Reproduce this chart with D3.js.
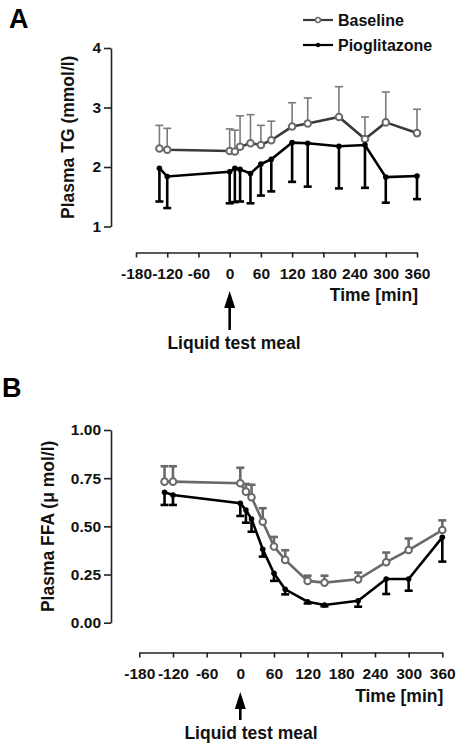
<!DOCTYPE html>
<html><head><meta charset="utf-8">
<script src="https://cdn.jsdelivr.net/npm/d3@7"></script>
<style>body{margin:0;background:#fff}svg{display:block}text{font-family:"Liberation Sans",Arial,sans-serif;font-weight:bold}</style>
</head><body>
<svg id="c" width="456" height="748"></svg>
<script>
const times = [-135, -120, 0, 10, 20, 40, 60, 80, 120, 150, 210, 260, 300, 360];
const xTicks = [-180, -120, -60, 0, 60, 120, 180, 240, 300, 360];
const seriesNames = ["Baseline", "Pioglitazone"];
// Panel A: plasma TG (mmol/l)
const tgBaseline = [2.31, 2.29, 2.27, 2.26, 2.34, 2.40, 2.37, 2.45, 2.68, 2.73, 2.84, 2.47, 2.75, 2.57];
const tgBaselineErr = [0.39, 0.36, 0.37, 0.36, 0.52, 0.48, 0.33, 0.32, 0.40, 0.43, 0.51, 0.37, 0.51, 0.40];
const tgPio = [1.98, 1.84, 1.92, 1.98, 1.96, 1.89, 2.05, 2.13, 2.41, 2.40, 2.35, 2.37, 1.83, 1.85];
const tgPioErr = [0.56, 0.53, 0.53, 0.57, 0.54, 0.50, 0.53, 0.54, 0.66, 0.73, 0.71, 0.72, 0.43, 0.39];
const tgTicks = [1, 2, 3, 4];
// Panel B: plasma FFA
const ffaBaseline = [0.732, 0.732, 0.724, 0.68, 0.651, 0.524, 0.395, 0.326, 0.217, 0.208, 0.225, 0.314, 0.377, 0.481];
const ffaBaselineErr = [0.08, 0.08, 0.08, 0.04, 0.065, 0.07, 0.05, 0.05, 0.027, 0.036, 0.035, 0.05, 0.06, 0.05];
const ffaPio = [0.677, 0.663, 0.62, 0.585, 0.538, 0.381, 0.256, 0.173, 0.109, 0.092, 0.114, 0.227, 0.227, 0.443];
const ffaPioErr = [0.066, 0.052, 0.066, 0.066, 0.066, 0.038, 0.039, 0.026, 0.009, 0.007, 0.031, 0.078, 0.061, 0.126];
const ffaTicks = [0, 0.25, 0.5, 0.75, 1.0];

const svg = d3.select("#c");

function panel(cfg){
  const g = svg.append("g");
  const x = d3.scaleLinear().domain([-180,360]).range(cfg.xr);
  const y = d3.scaleLinear().domain(cfg.yd).range(cfg.yr);
  const ya = g.append("g").attr("transform",`translate(${cfg.yAxisX},0)`)
    .call(d3.axisLeft(y).tickValues(cfg.yTicks).tickFormat(cfg.yFmt).tickSize(7).tickSizeOuter(0).tickPadding(3));
  const xa = g.append("g").attr("transform",`translate(0,${cfg.xAxisY})`)
    .call(d3.axisBottom(x).tickValues(xTicks).tickFormat(d=>String(d)).tickSize(5).tickSizeOuter(0).tickPadding(8));
  [ya,xa].forEach(a=>{
    a.selectAll("path,line").attr("stroke","#222").attr("stroke-width",1.6);
    a.selectAll("text").attr("fill","#111").style("font-size","15.5px");
  });
  xa.selectAll("text").attr("dy","0.9em");
  g.append("text").attr("x",cfg.xr[1]+1).attr("y",cfg.timeY).attr("text-anchor","end")
    .style("font-size","17.5px").attr("fill","#111").text("Time [min]");
  g.append("text").attr("transform",`translate(${cfg.ylabX},${(cfg.yr[0]+cfg.yr[1])/2}) rotate(-90)`)
    .attr("text-anchor","middle").style("font-size","17.5px").attr("fill","#111").text(cfg.ylabel);
  g.append("text").attr("x",cfg.letterX).attr("y",cfg.letterY).style("font-size","27px").attr("fill","#000").text(cfg.letter);
  // arrow
  const ax = x(0);
  g.append("line").attr("x1",ax).attr("x2",ax).attr("y1",cfg.arrow[0]+14).attr("y2",cfg.arrow[1])
    .attr("stroke","#000").attr("stroke-width",2.6);
  g.append("path").attr("d",`M${ax},${cfg.arrow[0]} L${ax-5.5},${cfg.arrow[0]+17} L${ax+5.5},${cfg.arrow[0]+17} Z`).attr("fill","#000");
  g.append("text").attr("x",cfg.mealX).attr("y",cfg.mealY).attr("text-anchor","middle")
    .style("font-size","17.5px").attr("fill","#111").text("Liquid test meal");

  const line = d3.line().x(d=>x(d.t)).y(d=>y(d.v));
  const mk = (vals,errs)=>times.map((t,i)=>({t,v:vals[i],e:errs[i]}));
  const base = mk(cfg.base,cfg.baseErr), pio = mk(cfg.pio,cfg.pioErr);
  const cw = 4;
  const eb = g.append("g").attr("stroke",cfg.baseErrColor).attr("stroke-width",cfg.baseErrW);
  base.forEach(d=>{
    eb.append("line").attr("x1",x(d.t)).attr("x2",x(d.t)).attr("y1",y(d.v)).attr("y2",y(d.v+d.e));
    eb.append("line").attr("x1",x(d.t)-cw).attr("x2",x(d.t)+cw).attr("y1",y(d.v+d.e)).attr("y2",y(d.v+d.e));
  });
  const ep = g.append("g").attr("stroke","#000").attr("stroke-width",2.6);
  pio.forEach(d=>{
    ep.append("line").attr("x1",x(d.t)).attr("x2",x(d.t)).attr("y1",y(d.v)).attr("y2",y(d.v-d.e));
    ep.append("line").attr("x1",x(d.t)-cw).attr("x2",x(d.t)+cw).attr("y1",y(d.v-d.e)).attr("y2",y(d.v-d.e));
  });
  g.append("path").datum(base).attr("d",line).attr("fill","none").attr("stroke",cfg.baseLine).attr("stroke-width",2.6);
  g.append("path").datum(pio).attr("d",line).attr("fill","none").attr("stroke","#000").attr("stroke-width",2.6);
  g.selectAll(null).data(base).join("circle").attr("cx",d=>x(d.t)).attr("cy",d=>y(d.v)).attr("r",3.3)
    .attr("fill","#fff").attr("stroke",cfg.baseMarker).attr("stroke-width",2);
  g.selectAll(null).data(pio).join("circle").attr("cx",d=>x(d.t)).attr("cy",d=>y(d.v)).attr("r",2.8).attr("fill","#000");
}

panel({xr:[136,417], yd:[1,4], yr:[226.5,48], yAxisX:111, xAxisY:252.5, yTicks:tgTicks, yFmt:d3.format("d"),
  timeY:301, ylabX:74, ylabel:"Plasma TG (mmol/l)", letter:"A", letterX:9, letterY:28,
  arrow:[291,330], mealX:234, mealY:349,
  base:tgBaseline, baseErr:tgBaselineErr, pio:tgPio, pioErr:tgPioErr,
  baseErrColor:"#7a7a7a", baseErrW:1.6, baseLine:"#3a3a3a", baseMarker:"#6a6a6a"});

panel({xr:[139.3,442.3], yd:[0,1], yr:[622.7,430], yAxisX:111, xAxisY:652.5, yTicks:ffaTicks, yFmt:d3.format(".2f"),
  timeY:702, ylabX:54, ylabel:"Plasma FFA (\u03bc mol/l)", letter:"B", letterX:2, letterY:397,
  arrow:[692,720], mealX:251, mealY:739,
  base:ffaBaseline, baseErr:ffaBaselineErr, pio:ffaPio, pioErr:ffaPioErr,
  baseErrColor:"#6a6a6a", baseErrW:2.6, baseLine:"#6a6a6a", baseMarker:"#6a6a6a"});

const leg = svg.append("g");
[{n:seriesNames[0],y:20,c:"#3a3a3a",open:true},{n:seriesNames[1],y:45,c:"#000",open:false}].forEach(d=>{
  leg.append("line").attr("x1",303).attr("x2",333).attr("y1",d.y).attr("y2",d.y).attr("stroke",d.c).attr("stroke-width",2.2);
  leg.append("circle").attr("cx",318).attr("cy",d.y).attr("r",d.open?2.4:2.2)
    .attr("fill",d.open?"#fff":"#000").attr("stroke",d.open?"#6a6a6a":"none").attr("stroke-width",1.5);
  leg.append("text").attr("x",338).attr("y",d.y+6).style("font-size","16px").attr("fill","#111").text(d.n);
});
</script>
</body></html>
